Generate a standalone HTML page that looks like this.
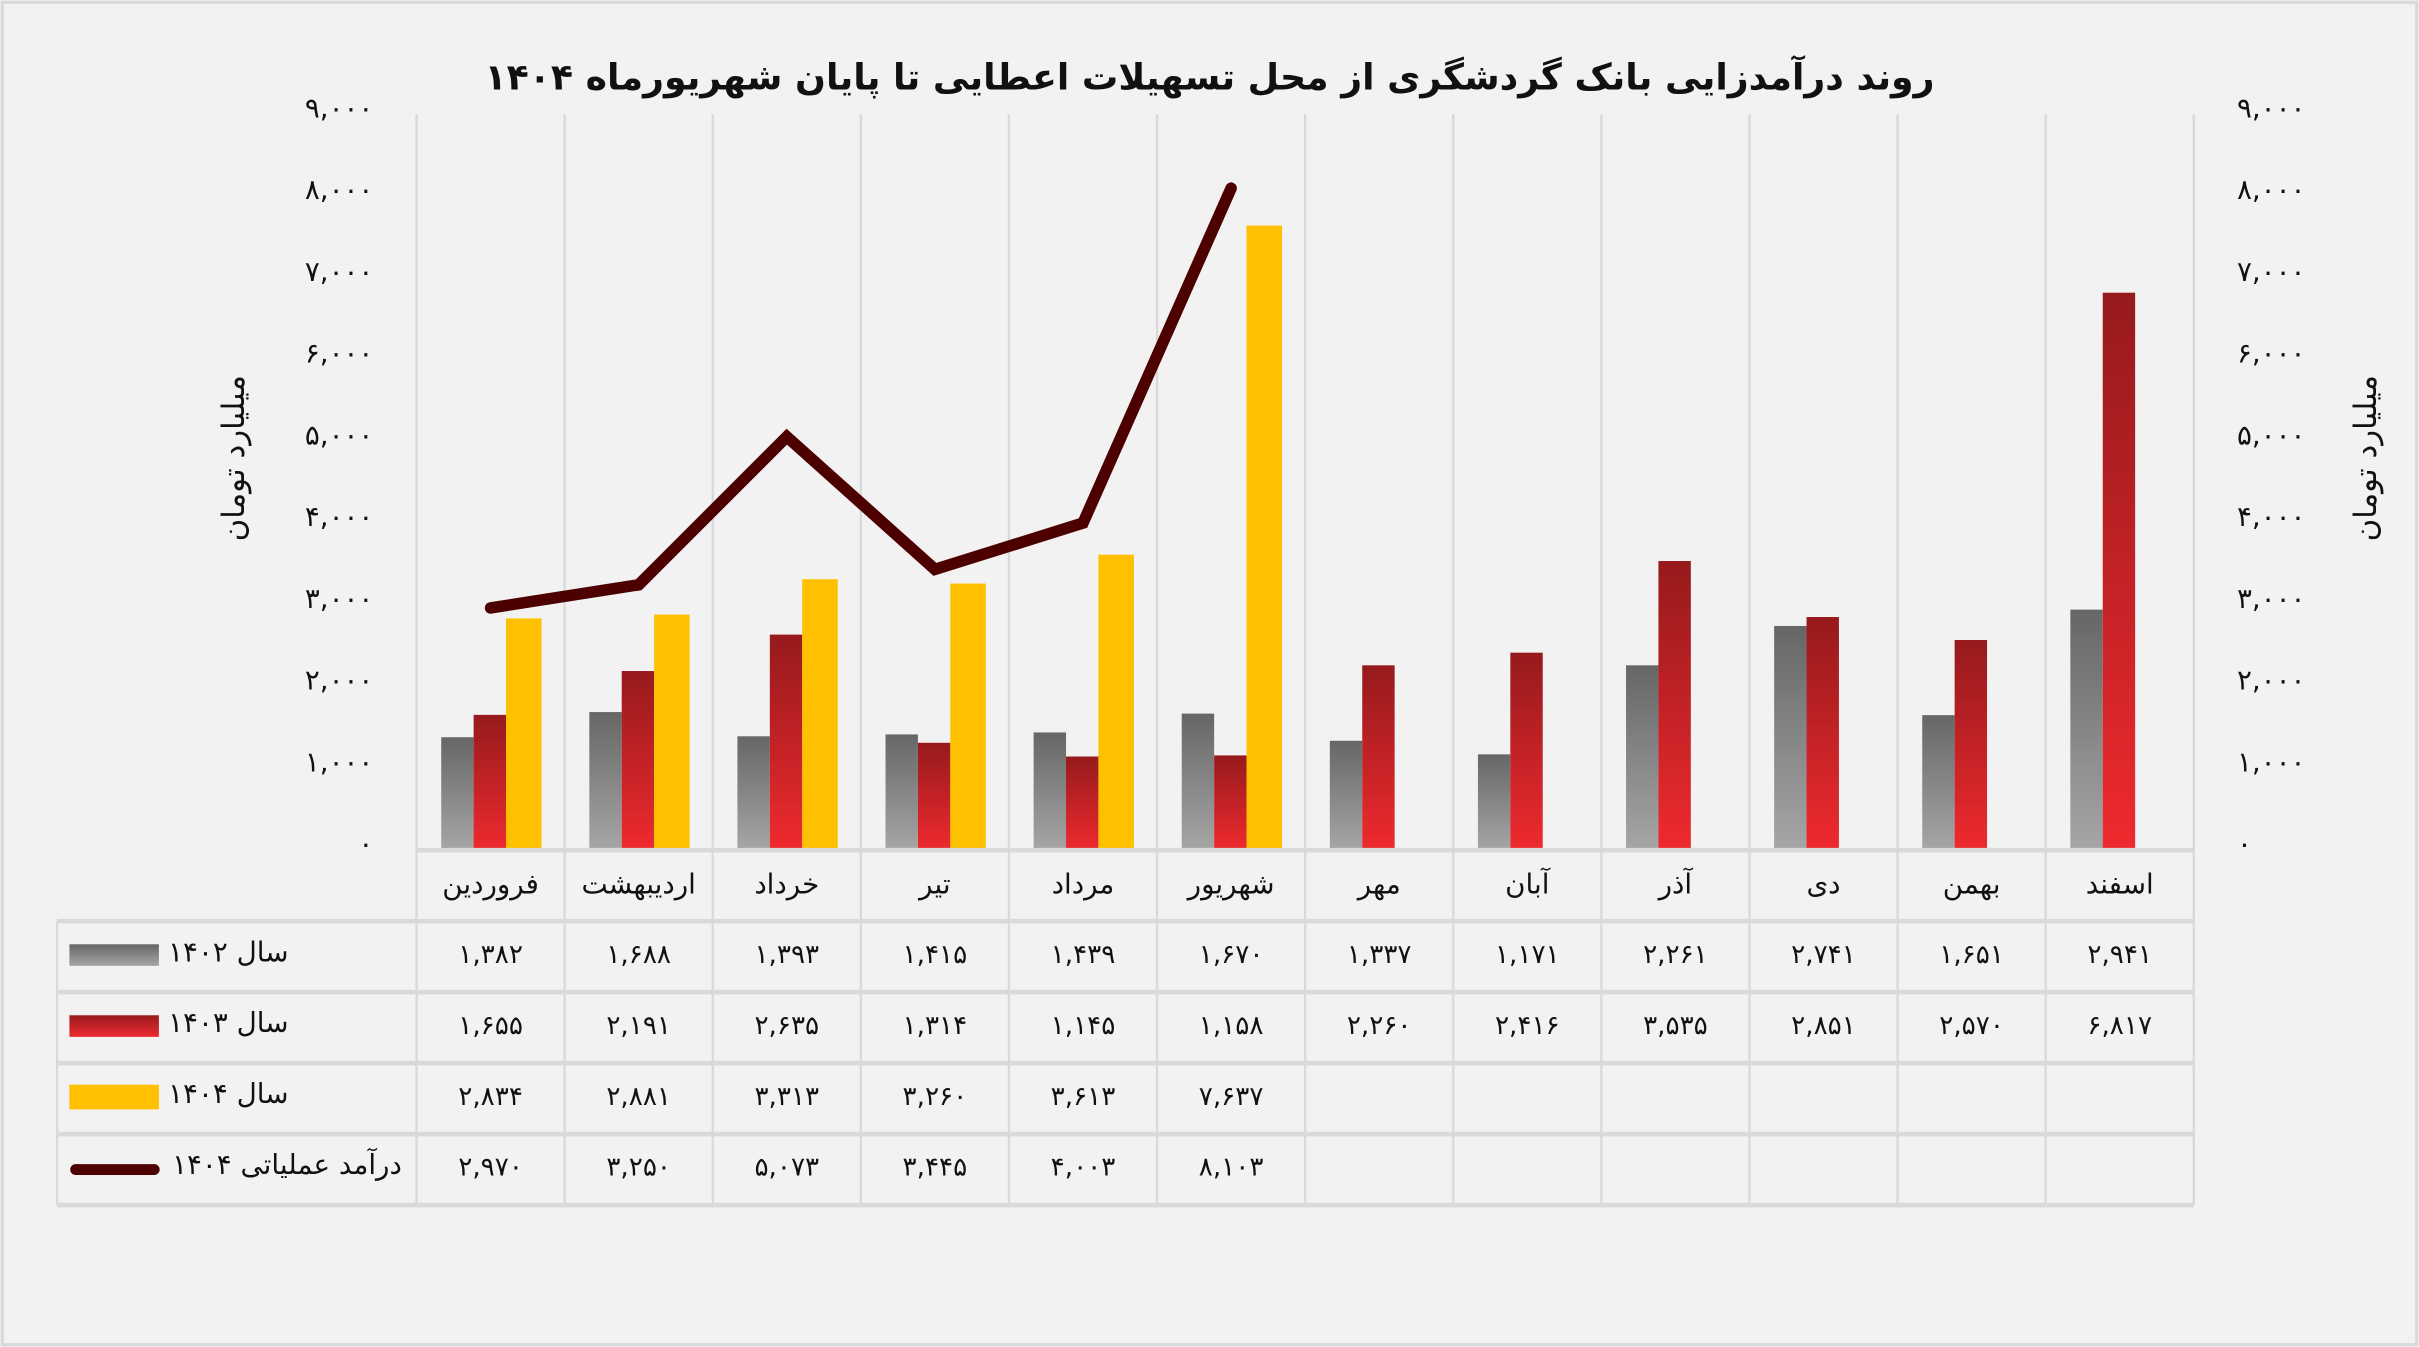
<!DOCTYPE html>
<html><head><meta charset="utf-8"><style>
html,body{margin:0;padding:0;background:#f2f2f2}
svg{display:block}
text{font-family:"DejaVu Sans","Liberation Sans",sans-serif;fill:#111}
.t{font-size:17px;text-anchor:middle}
.y{font-size:18px}
</style></head><body>
<svg width="2419" height="1347" viewBox="0 0 1568 873" preserveAspectRatio="none" xmlns="http://www.w3.org/2000/svg">
<defs>
<linearGradient id="g" x1="0" y1="0" x2="0" y2="1"><stop offset="0" stop-color="#666"/><stop offset="1" stop-color="#a6a6a6"/></linearGradient>
<linearGradient id="r" x1="0" y1="0" x2="0" y2="1"><stop offset="0" stop-color="#961a1c"/><stop offset="1" stop-color="#ee2a2f"/></linearGradient>
</defs>
<rect x="0" y="0" width="1568" height="873" fill="#f2f2f2"/>
<rect x="1.5" y="1.5" width="1565" height="870" fill="none" stroke="#d9d9d9" stroke-width="2"/>
<text x="784" y="58" style="font-size:23.5px;font-weight:bold;text-anchor:middle" direction="rtl">روند درآمدزایی بانک گردشگری از محل تسهیلات اعطایی تا پایان شهریورماه ۱۴۰۴</text>

<g stroke="#d9d9d9" stroke-width="1.5">
<line x1="270" y1="74" x2="270" y2="781"/><line x1="366" y1="74" x2="366" y2="781"/><line x1="462" y1="74" x2="462" y2="781"/><line x1="558" y1="74" x2="558" y2="781"/><line x1="654" y1="74" x2="654" y2="781"/><line x1="750" y1="74" x2="750" y2="781"/><line x1="846" y1="74" x2="846" y2="781"/><line x1="942" y1="74" x2="942" y2="781"/><line x1="1038" y1="74" x2="1038" y2="781"/><line x1="1134" y1="74" x2="1134" y2="781"/><line x1="1230" y1="74" x2="1230" y2="781"/><line x1="1326" y1="74" x2="1326" y2="781"/><line x1="1422" y1="74" x2="1422" y2="781"/>
<line x1="37" y1="597" x2="37" y2="781"/>
</g>
<g stroke="#d9d9d9" stroke-width="3">
<line x1="37" y1="597" x2="1422" y2="597"/><line x1="37" y1="643" x2="1422" y2="643"/><line x1="37" y1="689" x2="1422" y2="689"/><line x1="37" y1="735" x2="1422" y2="735"/><line x1="37" y1="781" x2="1422" y2="781"/>
</g>

<g fill="url(#g)">
<rect x="286" y="477.8" width="21" height="73.2"/><rect x="382" y="461.5" width="21" height="89.5"/><rect x="478" y="477.2" width="21" height="73.8"/><rect x="574" y="476" width="21" height="75"/><rect x="670" y="474.7" width="21" height="76.3"/><rect x="766" y="462.5" width="21" height="88.5"/><rect x="862" y="480.1" width="21" height="70.9"/><rect x="958" y="488.9" width="21" height="62.1"/><rect x="1054" y="431.2" width="21" height="119.8"/><rect x="1150" y="405.7" width="21" height="145.3"/><rect x="1246" y="463.5" width="21" height="87.5"/><rect x="1342" y="395.1" width="21" height="155.9"/>
</g>
<g fill="url(#r)">
<rect x="307" y="463.3" width="21" height="87.7"/><rect x="403" y="434.9" width="21" height="116.1"/><rect x="499" y="411.3" width="21" height="139.7"/><rect x="595" y="481.4" width="21" height="69.6"/><rect x="691" y="490.3" width="21" height="60.7"/><rect x="787" y="489.6" width="21" height="61.4"/><rect x="883" y="431.2" width="21" height="119.8"/><rect x="979" y="423" width="21" height="128"/><rect x="1075" y="363.6" width="21" height="187.4"/><rect x="1171" y="399.9" width="21" height="151.1"/><rect x="1267" y="414.8" width="21" height="136.2"/><rect x="1363" y="189.7" width="21" height="361.3"/>
</g>
<g fill="#ffc000">
<rect x="328" y="400.8" width="23" height="150.2"/><rect x="424" y="398.3" width="23" height="152.7"/><rect x="520" y="375.4" width="23" height="175.6"/><rect x="616" y="378.2" width="23" height="172.8"/><rect x="712" y="359.5" width="23" height="191.5"/><rect x="808" y="146.2" width="23" height="404.8"/>
</g>
<line x1="270" y1="551" x2="1422" y2="551" stroke="#d9d9d9" stroke-width="3"/>
<polyline points="318,394 414,379 510,283 606,369 702,339 798,122" fill="none" stroke="#4d0000" stroke-width="7.5" stroke-linejoin="miter" stroke-linecap="round"/>

<g class="y" style="text-anchor:end">
<text x="242" y="76">۹,۰۰۰</text><text x="242" y="129">۸,۰۰۰</text><text x="242" y="182">۷,۰۰۰</text><text x="242" y="235">۶,۰۰۰</text><text x="242" y="288">۵,۰۰۰</text><text x="242" y="341">۴,۰۰۰</text><text x="242" y="394">۳,۰۰۰</text><text x="242" y="447">۲,۰۰۰</text><text x="242" y="500">۱,۰۰۰</text><text x="242" y="553">۰</text>
</g>
<g class="y" style="text-anchor:start">
<text x="1450" y="76">۹,۰۰۰</text><text x="1450" y="129">۸,۰۰۰</text><text x="1450" y="182">۷,۰۰۰</text><text x="1450" y="235">۶,۰۰۰</text><text x="1450" y="288">۵,۰۰۰</text><text x="1450" y="341">۴,۰۰۰</text><text x="1450" y="394">۳,۰۰۰</text><text x="1450" y="447">۲,۰۰۰</text><text x="1450" y="500">۱,۰۰۰</text><text x="1450" y="553">۰</text>
</g>
<text transform="translate(158,297) rotate(-90)" style="font-size:20px;text-anchor:middle">میلیارد تومان</text>
<text transform="translate(1540,297) rotate(-90)" style="font-size:20px;text-anchor:middle">میلیارد تومان</text>

<g class="t" style="font-size:18px">
<text x="318" y="579">فروردین</text><text x="414" y="579">اردیبهشت</text><text x="510" y="579">خرداد</text><text x="606" y="579">تیر</text><text x="702" y="579">مرداد</text><text x="798" y="579">شهریور</text><text x="894" y="579">مهر</text><text x="990" y="579">آبان</text><text x="1086" y="579">آذر</text><text x="1182" y="579">دی</text><text x="1278" y="579">بهمن</text><text x="1374" y="579">اسفند</text>
</g>

<rect x="45" y="612" width="58" height="14" fill="url(#g)"/>
<rect x="45" y="658" width="58" height="14" fill="url(#r)"/>
<rect x="45" y="703" width="58" height="16" fill="#ffc000"/>
<line x1="49" y1="758" x2="100" y2="758" stroke="#4d0000" stroke-width="7" stroke-linecap="round"/>
<g style="font-size:18px;text-anchor:middle">
<text x="148" y="623" direction="rtl">سال ۱۴۰۲</text>
<text x="148" y="669" direction="rtl">سال ۱۴۰۳</text>
<text x="148" y="715" direction="rtl">سال ۱۴۰۴</text>
<text x="186" y="761" direction="rtl">درآمد عملیاتی ۱۴۰۴</text>
</g>

<g class="t">
<text x="318" y="624">۱,۳۸۲</text><text x="414" y="624">۱,۶۸۸</text><text x="510" y="624">۱,۳۹۳</text><text x="606" y="624">۱,۴۱۵</text><text x="702" y="624">۱,۴۳۹</text><text x="798" y="624">۱,۶۷۰</text><text x="894" y="624">۱,۳۳۷</text><text x="990" y="624">۱,۱۷۱</text><text x="1086" y="624">۲,۲۶۱</text><text x="1182" y="624">۲,۷۴۱</text><text x="1278" y="624">۱,۶۵۱</text><text x="1374" y="624">۲,۹۴۱</text>
<text x="318" y="670">۱,۶۵۵</text><text x="414" y="670">۲,۱۹۱</text><text x="510" y="670">۲,۶۳۵</text><text x="606" y="670">۱,۳۱۴</text><text x="702" y="670">۱,۱۴۵</text><text x="798" y="670">۱,۱۵۸</text><text x="894" y="670">۲,۲۶۰</text><text x="990" y="670">۲,۴۱۶</text><text x="1086" y="670">۳,۵۳۵</text><text x="1182" y="670">۲,۸۵۱</text><text x="1278" y="670">۲,۵۷۰</text><text x="1374" y="670">۶,۸۱۷</text>
<text x="318" y="716">۲,۸۳۴</text><text x="414" y="716">۲,۸۸۱</text><text x="510" y="716">۳,۳۱۳</text><text x="606" y="716">۳,۲۶۰</text><text x="702" y="716">۳,۶۱۳</text><text x="798" y="716">۷,۶۳۷</text>
<text x="318" y="762">۲,۹۷۰</text><text x="414" y="762">۳,۲۵۰</text><text x="510" y="762">۵,۰۷۳</text><text x="606" y="762">۳,۴۴۵</text><text x="702" y="762">۴,۰۰۳</text><text x="798" y="762">۸,۱۰۳</text>
</g>
</svg>
</body></html>
